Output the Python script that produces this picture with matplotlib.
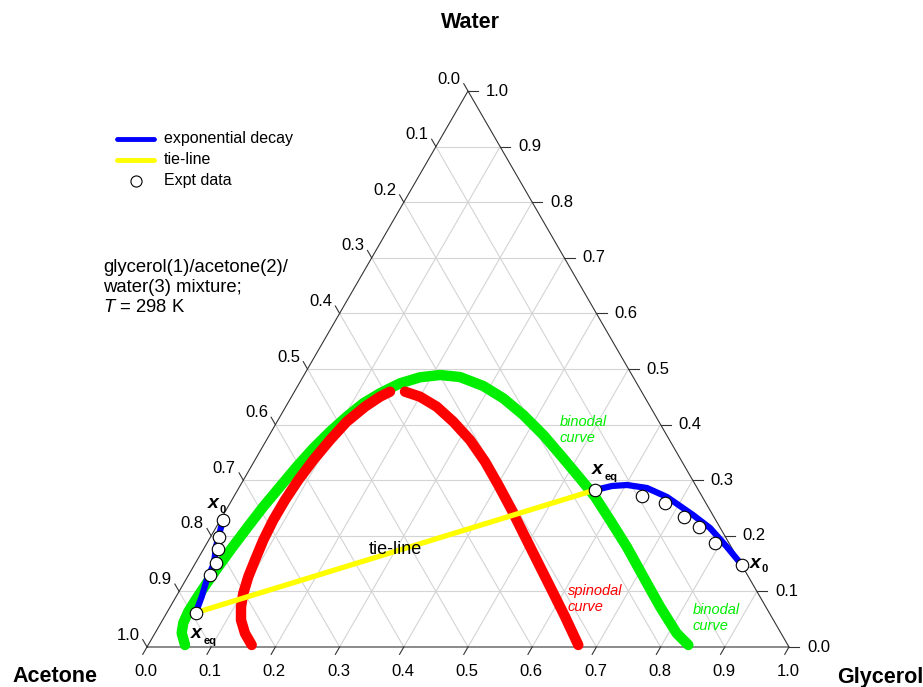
import numpy as np
import matplotlib
matplotlib.use("Agg")
import matplotlib.pyplot as plt

plt.rcParams['font.family'] = ['Liberation Sans', 'DejaVu Sans']
plt.rcParams['mathtext.fontset'] = 'custom'
plt.rcParams['mathtext.rm'] = 'Liberation Sans'
plt.rcParams['mathtext.it'] = 'Liberation Sans:italic'
plt.rcParams['mathtext.bf'] = 'Liberation Sans:bold'

# ---------------- data (glycerol fraction, water fraction) ----------------
binodal_g = [0.0574, 0.0414, 0.0349, 0.0326, 0.0336, 0.0357, 0.0389, 0.0431, 0.0486, 0.055,
             0.063, 0.0711, 0.0803, 0.0914, 0.104, 0.1177, 0.1347, 0.157, 0.1827, 0.2118,
             0.2447, 0.2891, 0.3313, 0.3775, 0.4267, 0.4787, 0.5228, 0.5626, 0.607, 0.657,
             0.7099, 0.7629, 0.8128, 0.8414]
binodal_w = [0.0036, 0.0252, 0.0432, 0.0635, 0.0876, 0.1146, 0.1444, 0.1775, 0.2135, 0.2523,
             0.2883, 0.3243, 0.3574, 0.3872, 0.4142, 0.4383, 0.4563, 0.4743, 0.4851, 0.4892,
             0.4856, 0.4694, 0.4473, 0.4173, 0.3813, 0.3394, 0.3034, 0.2703, 0.2284, 0.1804,
             0.1264, 0.0725, 0.0246, 0.0036]

spin_left_g = [0.1613, 0.1403, 0.1221, 0.1102, 0.1017, 0.0946, 0.090, 0.085, 0.0825, 0.0828,
               0.0855, 0.0909, 0.0989, 0.1085, 0.1235, 0.1378, 0.1489]
spin_left_w = [0.0036, 0.0246, 0.0486, 0.0725, 0.0966, 0.1264, 0.1565, 0.1924, 0.2284, 0.2644,
               0.3004, 0.3363, 0.3723, 0.4052, 0.4322, 0.4502, 0.4592]
spin_right_g = [0.1723, 0.2001, 0.2352, 0.2745, 0.317, 0.3599, 0.4015, 0.4449, 0.4896, 0.5343,
                0.5792, 0.6239, 0.670]
spin_right_w = [0.4592, 0.4502, 0.4322, 0.4052, 0.3723, 0.3333, 0.2914, 0.2464, 0.1984, 0.1505,
                0.1025, 0.0545, 0.0036]

decay_left_g = [0.004, 0.0173, 0.0291, 0.0327, 0.040, 0.0451]
decay_left_w = [0.2284, 0.1804, 0.1505, 0.1205, 0.0905, 0.0617]
decay_right_g = [0.5566, 0.5795, 0.602, 0.6358, 0.6751, 0.7318, 0.770, 0.8134, 0.8507]
decay_right_w = [0.2824, 0.2896, 0.2914, 0.286, 0.2698, 0.2374, 0.214, 0.1799, 0.1493]

tie_g = [0.0451, 0.5566]
tie_w = [0.0617, 0.2824]

expt_g = [0.004, 0.0134, 0.023, 0.0317, 0.0334, 0.0451,
          0.5566, 0.6354, 0.6777, 0.7198, 0.7522, 0.7909, 0.8525]
expt_w = [0.2284, 0.1984, 0.1763, 0.1505, 0.1295, 0.0617,
          0.2824, 0.2721, 0.2585, 0.2333, 0.2153, 0.1876, 0.1475]

tick_values = [k / 10 for k in range(11)]
tick_labels = ['%.1f' % v for v in tick_values]

# ---------------- geometry helpers ----------------
S3 = np.sqrt(3) / 2
PX, OX, OY = 642.0, 147.0, 647.0
W, H = 923, 687


def tern(g, w):
    g = np.asarray(g, float)
    w = np.asarray(w, float)
    return g + w / 2, w * S3


def P(px, py):
    return ((px - OX) / PX, (OY - py) / PX)


fig = plt.figure(figsize=(W / 100, H / 100), dpi=100)
ax = fig.add_axes([0, 0, 1, 1])
ax.set_xlim(-OX / PX, (W - OX) / PX)
ax.set_ylim(-(H - OY) / PX, OY / PX)
ax.axis('off')

# grid
gc = '#d4d4d4'
for k in range(1, 10):
    f = k / 10
    for gg, ww in (([f, f], [0, 1 - f]), ([0, 1 - f], [f, f]), ([1 - f, 0], [0, 1 - f])):
        x, y = tern(gg, ww)
        ax.plot(x, y, color=gc, lw=0.8, zorder=1)

# frame
x, y = tern([0, 1, 0, 0], [0, 0, 1, 0])
ax.plot(x, y, color='#333333', lw=0.8, zorder=2)

# ticks and tick labels
t = 8.5 / PX
for v, lab in zip(tick_values, tick_labels):
    # bottom (glycerol)
    X, Y = tern(v, 0)
    ax.plot([X, X - 0.5 * t], [Y, Y - S3 * t], color='#333333', lw=0.8, zorder=2)
    ax.text(X - 1 / PX, Y - 25 / PX, lab, fontsize=12, ha='center', va='center')
    # left (acetone)
    X, Y = tern(0, 1 - v)
    ax.plot([X, X - 0.5 * t], [Y, Y + S3 * t], color='#333333', lw=0.8, zorder=2)
    ax.text(X - 19 / PX, Y + 12 / PX, lab, fontsize=12, ha='center', va='center')
    # right (water)
    X, Y = tern(1 - v, v)
    ax.plot([X, X + 1.2 * t], [Y, Y], color='#333333', lw=0.8, zorder=2)
    ax.text(X + 18 / PX, Y, lab, fontsize=12, ha='left', va='center')

# curves
x, y = tern(binodal_g, binodal_w)
ax.plot(x, y, color='#00ee00', lw=7.5, solid_capstyle='round', solid_joinstyle='round', zorder=3)
for gg, ww in ((spin_left_g, spin_left_w), (spin_right_g, spin_right_w)):
    x, y = tern(gg, ww)
    ax.plot(x, y, color='#ff0000', lw=7.5, solid_capstyle='round', solid_joinstyle='round', zorder=4)
x, y = tern(tie_g, tie_w)
ax.plot(x, y, color='#ffff00', lw=3.8, zorder=5)
for gg, ww in ((decay_left_g, decay_left_w), (decay_right_g, decay_right_w)):
    x, y = tern(gg, ww)
    ax.plot(x, y, color='#0000ff', lw=4.5, solid_capstyle='round', solid_joinstyle='round', zorder=6)
x, y = tern(expt_g, expt_w)
ax.plot(x, y, 'o', ms=9, mfc='white', mec='black', mew=0.8, zorder=7)

# legend (manual)
ax.plot(*zip(P(117, 139), P(154, 139)), color='#0000ff', lw=3.5, solid_capstyle='round')
ax.plot(*zip(P(117, 159.5), P(154, 159.5)), color='#ffff00', lw=3.5, solid_capstyle='round')
ax.plot(*P(136, 181), 'o', ms=8, mfc='white', mec='black', mew=0.8)
for yy, s in ((139, 'exponential decay'), (159.5, 'tie-line'), (181, 'Expt data')):
    ax.text(*P(164, yy), s, fontsize=11.5, ha='left', va='center')

# description
ax.text(*P(103, 271.5), 'glycerol(1)/acetone(2)/', fontsize=13.3, ha='left', va='baseline')
ax.text(*P(103, 292), 'water(3) mixture;', fontsize=13.3, ha='left', va='baseline')
ax.text(*P(103, 312), '$T$ = 298 K', fontsize=13.3, ha='left', va='baseline')

# axis titles
ax.text(*P(470, 22), 'Water', fontsize=15.5, fontweight='bold', ha='center', va='center')
ax.text(*P(55, 677), 'Acetone', fontsize=15.5, fontweight='bold', ha='center', va='center')
ax.text(*P(837, 677), 'Glycerol', fontsize=15.5, fontweight='bold', ha='left', va='center')

# curve labels
ax.text(*P(560, 415), 'binodal\ncurve', color='#00ee00', fontsize=10.5, style='italic',
        ha='left', va='top', linespacing=1.15)
ax.text(*P(693, 603), 'binodal\ncurve', color='#00ee00', fontsize=10.5, style='italic',
        ha='left', va='top', linespacing=1.15)
ax.text(*P(568, 584), 'spinodal\ncurve', color='#ff0000', fontsize=10.5, style='italic',
        ha='left', va='top', linespacing=1.15)
ax.text(*P(369, 550), 'tie-line', fontsize=13, ha='left', va='center', zorder=8)

# x0 / xeq labels
for (xpx, ybl, sub, sxp, sybl) in ((208, 508, '0', 220, 513),
                                  (191, 638, 'eq', 204, 643.5),
                                  (592, 474, 'eq', 605, 479.5),
                                  (750, 568, '0', 762, 572)):
    ax.text(*P(xpx, ybl), 'x', fontsize=14, fontweight='bold', style='italic',
            ha='left', va='baseline', zorder=8)
    ax.text(*P(sxp, sybl), sub, fontsize=8, fontweight='bold',
            ha='left', va='baseline', zorder=8)

fig.savefig('out.png', dpi=100)
